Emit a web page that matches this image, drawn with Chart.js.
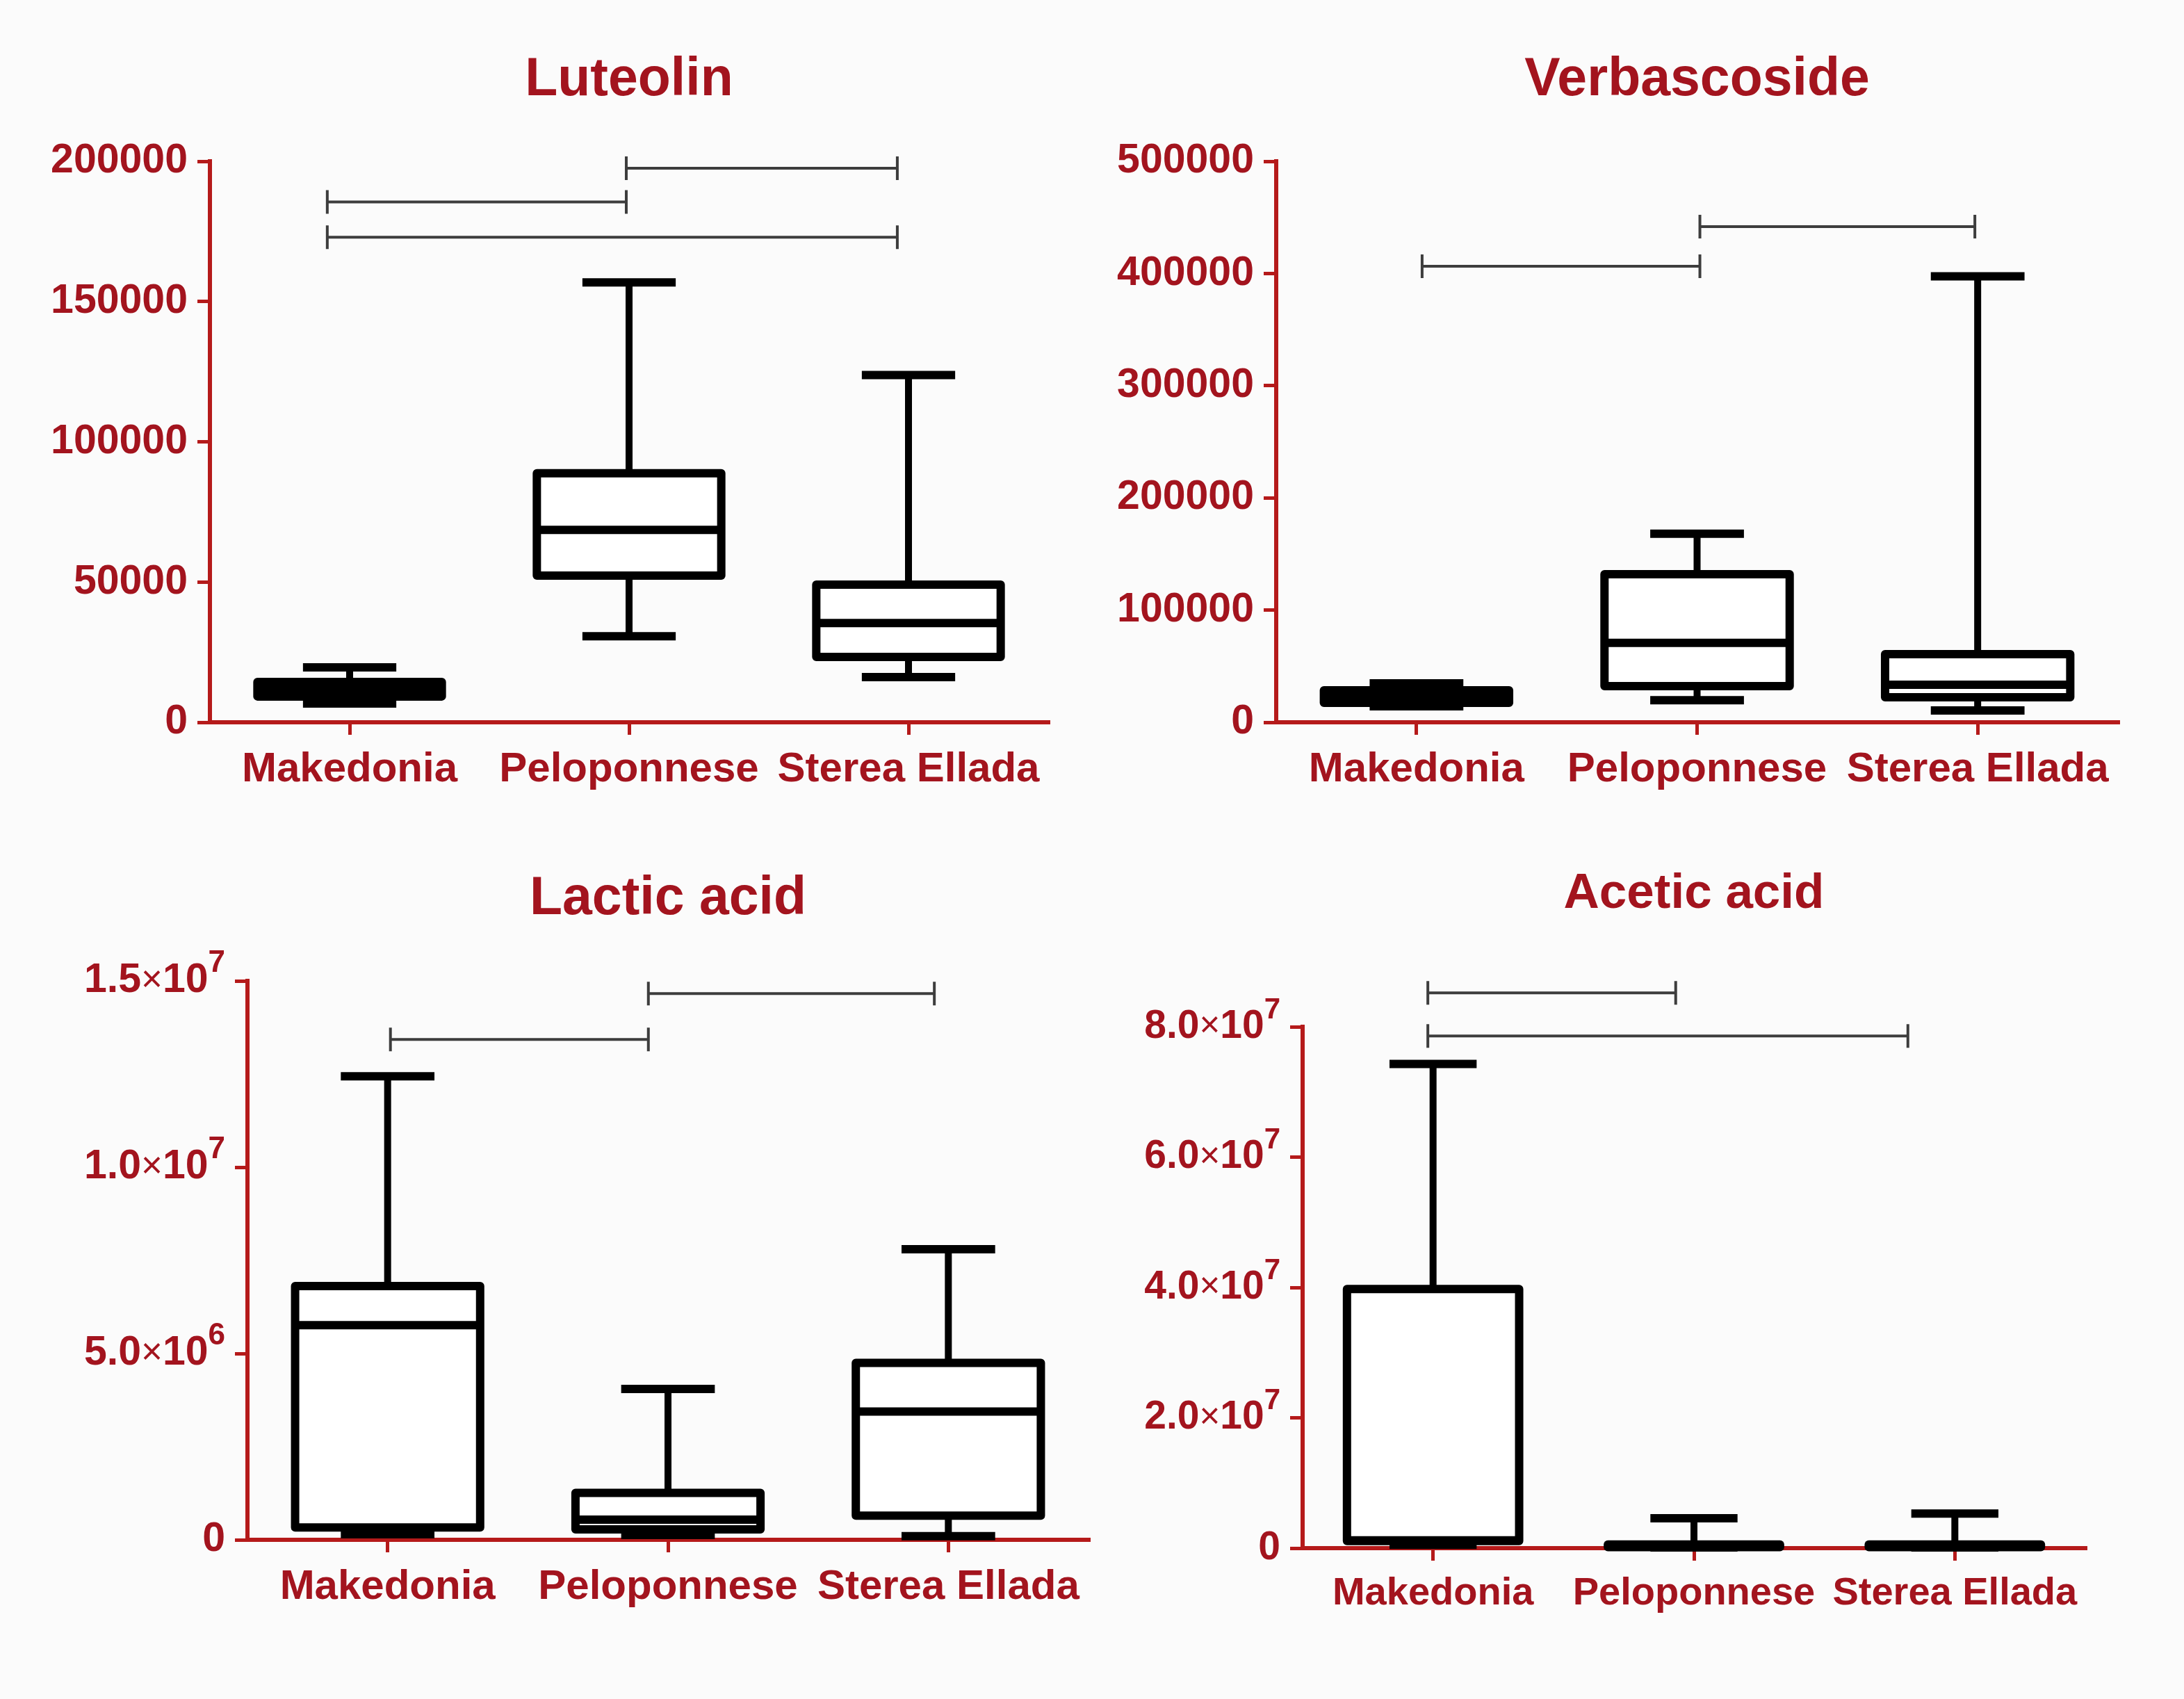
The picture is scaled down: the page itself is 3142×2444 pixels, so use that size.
<!DOCTYPE html>
<html>
<head>
<meta charset="utf-8">
<script src="https://cdn.jsdelivr.net/npm/chart.js@4.4.1/dist/chart.umd.min.js"></script>
<style>
  html, body { margin: 0; padding: 0; background: #fbfbfb; }
  body { width: 3142px; height: 2444px; position: relative; overflow: hidden; }
  canvas { position: absolute; }
</style>
</head>
<body>
<canvas id="chartLut"></canvas>
<canvas id="chartVerb"></canvas>
<canvas id="chartLact"></canvas>
<canvas id="chartAcet"></canvas>
<script>
const categories = ['Makedonia', 'Peloponnese', 'Sterea Ellada'];

// Luteolin
const luteolinMin    = [6700, 30700, 16100];
const luteolinQ1     = [9200, 52300, 23300];
const luteolinMedian = [11800, 68600, 35400];
const luteolinQ3     = [14400, 88800, 49100];
const luteolinMax    = [19600, 156800, 123800];
const luteolinTicks  = ['0', '50000', '100000', '150000', '200000'];
// significance bars: [from category, to category, height]
const luteolinBrackets = [[0.99, 1.96, 197500], [-0.08, 0.99, 185500], [-0.08, 1.96, 172900]];

// Verbascoside
const verbMin    = [14200, 19600, 10500];
const verbQ1     = [17300, 32200, 22300];
const verbMedian = [22000, 70800, 33400];
const verbQ3     = [28500, 131900, 60700];
const verbMax    = [34700, 168000, 397500];
const verbTicks  = ['0', '100000', '200000', '300000', '400000', '500000'];
const verbBrackets = [[0.02, 1.01, 406400], [1.01, 1.99, 441700]];

// Lactic acid
const lacticMin    = [150000, 130000, 100000];
const lacticQ1     = [330000, 280000, 650000];
const lacticMedian = [5760000, 540000, 3440000];
const lacticQ3     = [6810000, 1260000, 4750000];
const lacticMax    = [12440000, 4050000, 7800000];
const lacticTicks  = ['0', '5.0×10^6', '1.0×10^7', '1.5×10^7'];
const lacticBrackets = [[0.01, 0.93, 13430000], [0.93, 1.95, 14660000]];

// Acetic acid
const aceticMin    = [500000, 100000, 100000];
const aceticQ1     = [1100000, 150000, 150000];
const aceticMedian = [1200000, 300000, 300000];
const aceticQ3     = [39750000, 550000, 550000];
const aceticMax    = [74300000, 4600000, 5300000];
const aceticTicks  = ['0', '2.0×10^7', '4.0×10^7', '6.0×10^7', '8.0×10^7'];
const aceticBrackets = [[-0.02, 0.93, 85200000], [-0.02, 1.82, 78600000]];

const RED_TEXT = '#a3141e';
const RED_AXIS = '#b51a1a';
const FONT = "'Liberation Sans', Arial, sans-serif";

function boxPlugin(s, brackets, tickLabels, tickSize) {
  return {
    id: 'boxes',
    afterDatasetsDraw(chart) {
      const ctx = chart.ctx;
      const y = chart.scales.y;
      const bars = chart.getDatasetMeta(0).data;
      ctx.save();
      ctx.strokeStyle = '#000000';
      bars.forEach((bar, i) => {
        const cx = bar.x, hw = bar.width / 2, cap = bar.width * 0.253;
        const top = y.getPixelForValue(s.q3[i]);
        const bot = y.getPixelForValue(s.q1[i]);
        const hi = y.getPixelForValue(s.max[i]);
        const lo = y.getPixelForValue(s.min[i]);
        const med = y.getPixelForValue(s.median[i]);
        ctx.lineCap = 'butt';
        ctx.lineWidth = 10;
        ctx.beginPath();
        ctx.moveTo(cx, top); ctx.lineTo(cx, hi);
        ctx.moveTo(cx, bot); ctx.lineTo(cx, lo);
        ctx.stroke();
        ctx.lineWidth = 12;
        ctx.beginPath();
        ctx.moveTo(cx - cap, hi); ctx.lineTo(cx + cap, hi);
        ctx.moveTo(cx - cap, lo); ctx.lineTo(cx + cap, lo);
        ctx.stroke();
        ctx.lineJoin = 'round';
        ctx.strokeRect(cx - hw, top, hw * 2, bot - top);
        ctx.beginPath();
        ctx.moveTo(cx - hw, med); ctx.lineTo(cx + hw, med);
        ctx.stroke();
      });
      ctx.restore();
    },
    afterDraw(chart) {
      const ctx = chart.ctx, x = chart.scales.x, y = chart.scales.y;
      ctx.save();
      // significance bars
      ctx.strokeStyle = '#3d3d3d';
      ctx.lineWidth = 4;
      brackets.forEach(b => {
        const x1 = x.getPixelForValue(b[0]), x2 = x.getPixelForValue(b[1]);
        const py = y.getPixelForValue(b[2]);
        ctx.beginPath();
        ctx.moveTo(x1, py); ctx.lineTo(x2, py);
        ctx.moveTo(x1, py - 17); ctx.lineTo(x1, py + 17);
        ctx.moveTo(x2, py - 17); ctx.lineTo(x2, py + 17);
        ctx.stroke();
      });
      // y tick labels, with raised exponent
      ctx.fillStyle = RED_TEXT;
      ctx.textBaseline = 'middle';
      ctx.textAlign = 'left';
      const bold = `bold ${tickSize}px ${FONT}`;
      const thin = `${Math.round(tickSize * 0.9)}px ${FONT}`;
      const supFont = `bold ${Math.round(tickSize * 0.74)}px ${FONT}`;
      y.ticks.forEach((t, i) => {
        const py = y.getPixelForValue(t.value);
        const [main, sup] = tickLabels[i].split('^');
        const pieces = [];
        if (main.includes('×')) {
          const [a, b] = main.split('×');
          pieces.push([a, bold, 0], ['×', thin, 0], [b, bold, 0]);
        } else {
          pieces.push([main, bold, 0]);
        }
        if (sup) pieces.push([sup, supFont, -tickSize * 0.42]);
        let total = 0;
        pieces.forEach(p => { ctx.font = p[1]; p.push(ctx.measureText(p[0]).width); total += p[3]; });
        let px = chart.chartArea.left - 18 - 14 - total;
        pieces.forEach(p => {
          ctx.font = p[1];
          ctx.fillText(p[0], px, py + p[2]);
          px += p[3];
        });
      });
      ctx.restore();
    }
  };
}

function makeBoxChart(id, title, s, yMax, step, tickLabels, brackets, lay) {
  const canvas = document.getElementById(id);
  canvas.width = lay.w;
  canvas.height = lay.h;
  canvas.style.left = lay.x + 'px';
  canvas.style.top = lay.y + 'px';
  const axisGrid = {
    display: true, offset: false, drawOnChartArea: false, drawTicks: true,
    tickLength: 18, color: RED_AXIS, lineWidth: 5
  };
  return new Chart(canvas, {
    type: 'bar',
    data: {
      labels: categories,
      datasets: [{
        data: s.q1.map((v, i) => [v, s.q3[i]]),
        backgroundColor: '#ffffff',
        borderWidth: 0,
        barPercentage: 0.66,
        categoryPercentage: 1
      }]
    },
    options: {
      responsive: false,
      animation: false,
      devicePixelRatio: 1,
      layout: { padding: { left: 0, right: lay.padR, top: 0, bottom: 0 } },
      plugins: {
        legend: { display: false },
        tooltip: { enabled: false },
        title: {
          display: true, text: title, color: RED_TEXT, fullSize: false,
          font: { family: FONT, size: lay.titleSize, weight: 'bold', lineHeight: 1.2 },
          padding: { top: lay.tTop, bottom: lay.tBot }
        }
      },
      scales: {
        y: {
          min: 0, max: yMax,
          afterFit: sc => { sc.width = 300; },
          ticks: { stepSize: step, display: false },
          grid: axisGrid,
          border: { display: true, color: RED_AXIS, width: 6 }
        },
        x: {
          afterFit: sc => { sc.height = lay.xh; },
          ticks: {
            color: RED_TEXT, padding: 14, maxRotation: 0, autoSkip: false,
            font: { family: FONT, size: lay.catSize, weight: 'bold' }
          },
          grid: axisGrid,
          border: { display: true, color: RED_AXIS, width: 6 }
        }
      }
    },
    plugins: [boxPlugin(s, brackets, tickLabels, lay.tickSize)]
  });
}

makeBoxChart('chartLut', 'Luteolin',
  { min: luteolinMin, q1: luteolinQ1, median: luteolinMedian, q3: luteolinQ3, max: luteolinMax },
  200000, 50000, luteolinTicks, luteolinBrackets,
  { x: 2, y: 0, w: 1526, h: 1180, padR: 20, xh: 141, tTop: 70, tBot: 69.6,
    titleSize: 77, tickSize: 59, catSize: 60 });

makeBoxChart('chartVerb', 'Verbascoside',
  { min: verbMin, q1: verbQ1, median: verbMedian, q3: verbQ3, max: verbMax },
  500000, 100000, verbTicks, verbBrackets,
  { x: 1536, y: 0, w: 1531, h: 1180, padR: 20, xh: 141, tTop: 70, tBot: 69.6,
    titleSize: 77, tickSize: 59, catSize: 60 });

makeBoxChart('chartLact', 'Lactic acid',
  { min: lacticMin, q1: lacticQ1, median: lacticMedian, q3: lacticQ3, max: lacticMax },
  15000000, 5000000, lacticTicks, lacticBrackets,
  { x: 56, y: 1180, w: 1530, h: 1264, padR: 20, xh: 229, tTop: 67.8, tBot: 70.8,
    titleSize: 77, tickSize: 59, catSize: 60 });

makeBoxChart('chartAcet', 'Acetic acid',
  { min: aceticMin, q1: aceticQ1, median: aceticMedian, q3: aceticQ3, max: aceticMax },
  80000000, 20000000, aceticTicks, aceticBrackets,
  { x: 1574, y: 1180, w: 1446, h: 1264, padR: 20, xh: 217, tTop: 63.4, tBot: 148.4,
    titleSize: 71, tickSize: 57, catSize: 56 });
</script>
</body>
</html>
